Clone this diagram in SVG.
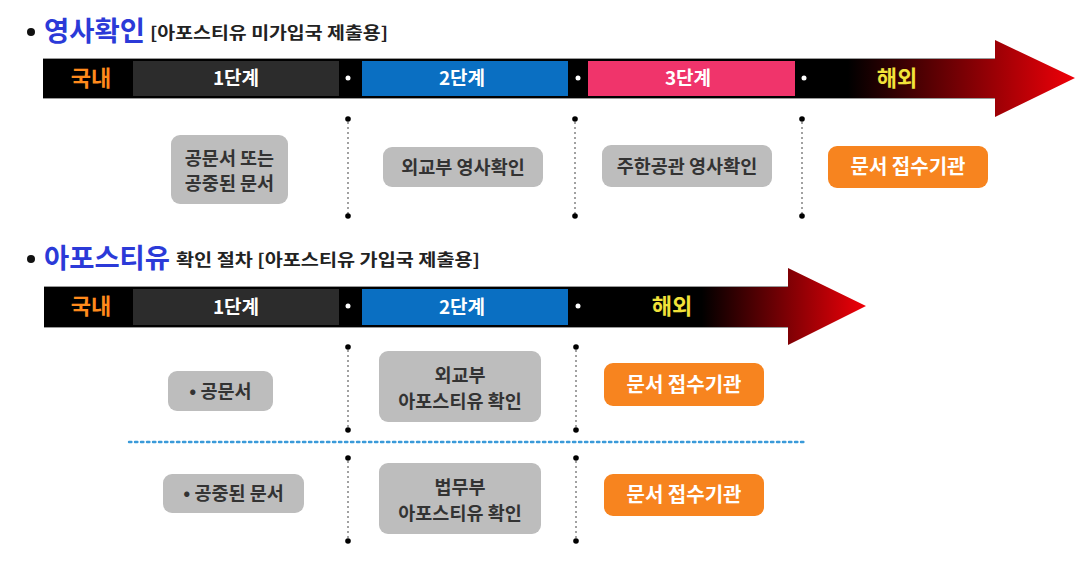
<svg xmlns="http://www.w3.org/2000/svg" width="1087" height="572" viewBox="0 0 1087 572">
<defs>
<linearGradient id="g1" gradientUnits="userSpaceOnUse" x1="43" y1="0" x2="1075" y2="0">
<stop offset="0" stop-color="#000"/><stop offset="0.78" stop-color="#000"/><stop offset="1" stop-color="#f00008"/>
</linearGradient>
<linearGradient id="g2" gradientUnits="userSpaceOnUse" x1="44" y1="0" x2="866" y2="0">
<stop offset="0" stop-color="#000"/><stop offset="0.8" stop-color="#000"/><stop offset="1" stop-color="#f00008"/>
</linearGradient>
<style>
text{font-family:"Noto Sans CJK KR","Noto Sans",sans-serif;font-weight:bold}
.title{fill:#2b3ad8;font-size:27.5px}
.sub{fill:#222;font-size:16.5px}
.bul{fill:#111}
.dom{fill:#ff8a1c;font-size:22px;text-anchor:middle}
.ovs{fill:#f2e23a;font-size:22px;text-anchor:middle}
.stg{fill:#fff;font-size:19px;text-anchor:middle}
.wd{fill:#fff}
.box{fill:#bdbdbd}
.obox{fill:#f7841f}
.bt{fill:#333;font-size:18.5px;text-anchor:middle}
.ot{fill:#fff;font-size:20px;text-anchor:middle}
.vl{stroke:#8a8a8a;stroke-width:1.6;stroke-dasharray:2 3}
.ed{fill:#000}
.hl{stroke:#3a9ad9;stroke-width:2.4;stroke-dasharray:2.4 3.6;stroke-linecap:round}
</style>
</defs>

<g id="heading1">
<circle class="bul" cx="31" cy="32" r="4"/>
<text class="title" x="44" y="41" textLength="101" lengthAdjust="spacingAndGlyphs">영사확인</text>
<text class="sub" x="150" y="39" textLength="238" lengthAdjust="spacingAndGlyphs">[아포스티유 미가입국 제출용]</text>
</g>

<g id="timeline1">
<path d="M43,58 H995 V40 L1075,78 L995,117 V99 H43 Z" fill="url(#g1)"/>
<line x1="43" y1="58.5" x2="995" y2="58.5" stroke="#9a9a9a" stroke-width="1"/>
<line x1="43" y1="98.5" x2="995" y2="98.5" stroke="#9a9a9a" stroke-width="1"/>
<text class="dom" x="91" y="86">국내</text>
<rect x="133" y="61" width="206" height="35" fill="#2c2c2c"/>
<text class="stg" x="236" y="85">1단계</text>
<circle class="wd" cx="348" cy="78" r="2.5"/>
<rect x="362" y="61" width="206" height="35" fill="#0a6fc2"/>
<text class="stg" x="462" y="85">2단계</text>
<circle class="wd" cx="578" cy="78" r="2.5"/>
<rect x="588" y="61" width="207" height="35" fill="#f0346b"/>
<text class="stg" x="688" y="85">3단계</text>
<circle class="wd" cx="804" cy="78" r="2.5"/>
<text class="ovs" x="897" y="86">해외</text>
</g>

<g id="heading2">
<circle class="bul" cx="31" cy="259" r="4"/>
<text class="title" x="44" y="268" textLength="126" lengthAdjust="spacingAndGlyphs">아포스티유</text>
<text class="sub" x="176" y="266" textLength="304" lengthAdjust="spacingAndGlyphs">확인 절차 [아포스티유 가입국 제출용]</text>
</g>

<g id="timeline2">
<path d="M44,286 H788 V268 L866,306 L788,345 V328 H44 Z" fill="url(#g2)"/>
<line x1="44" y1="286.5" x2="788" y2="286.5" stroke="#9a9a9a" stroke-width="1"/>
<line x1="44" y1="327.5" x2="788" y2="327.5" stroke="#9a9a9a" stroke-width="1"/>
<text class="dom" x="91" y="314">국내</text>
<rect x="133" y="289" width="206" height="36" fill="#2c2c2c"/>
<text class="stg" x="236" y="314">1단계</text>
<circle class="wd" cx="348" cy="306" r="2.5"/>
<rect x="362" y="289" width="206" height="36" fill="#0a6fc2"/>
<text class="stg" x="462" y="314">2단계</text>
<circle class="wd" cx="578" cy="306" r="2.5"/>
<text class="ovs" x="672" y="314">해외</text>
</g>

<g id="connectors">
<line class="vl" x1="348" y1="122" x2="348" y2="214"/>
<circle class="ed" cx="348" cy="119" r="2.8"/><circle class="ed" cx="348" cy="216" r="2.8"/>
<line class="vl" x1="575" y1="122" x2="575" y2="214"/>
<circle class="ed" cx="575" cy="119" r="2.8"/><circle class="ed" cx="575" cy="216" r="2.8"/>
<line class="vl" x1="802" y1="122" x2="802" y2="214"/>
<circle class="ed" cx="802" cy="119" r="2.8"/><circle class="ed" cx="802" cy="216" r="2.8"/>

<line class="vl" x1="348" y1="350" x2="348" y2="428"/>
<circle class="ed" cx="348" cy="347" r="2.8"/><circle class="ed" cx="348" cy="430" r="2.8"/>
<line class="vl" x1="576" y1="350" x2="576" y2="428"/>
<circle class="ed" cx="576" cy="347" r="2.8"/><circle class="ed" cx="576" cy="430" r="2.8"/>

<line class="hl" x1="129" y1="442" x2="807" y2="442"/>

<line class="vl" x1="348" y1="461" x2="348" y2="539"/>
<circle class="ed" cx="348" cy="458" r="2.8"/><circle class="ed" cx="348" cy="541" r="2.8"/>
<line class="vl" x1="576" y1="461" x2="576" y2="539"/>
<circle class="ed" cx="576" cy="458" r="2.8"/><circle class="ed" cx="576" cy="541" r="2.8"/>
</g>

<g id="n1-doc">
<rect class="box" x="171" y="135" width="117" height="69" rx="9"/>
<text class="bt" x="229.5" y="165">공문서 또는</text>
<text class="bt" x="229.5" y="190">공중된 문서</text>
</g>
<g id="n1-mofa">
<rect class="box" x="383" y="147" width="160" height="40" rx="9"/>
<text class="bt" x="463" y="174">외교부 영사확인</text>
</g>
<g id="n1-embassy">
<rect class="box" x="602" y="145" width="170" height="42" rx="9"/>
<text class="bt" x="687" y="173">주한공관 영사확인</text>
</g>
<g id="n1-receiver">
<rect class="obox" x="828" y="146" width="160" height="42" rx="9"/>
<text class="ot" x="908" y="174">문서 접수기관</text>
</g>

<g id="n2-doc">
<rect class="box" x="168" y="371" width="105" height="40" rx="9"/>
<text class="bt" x="220.5" y="398">• 공문서</text>
</g>
<g id="n2-mofa">
<rect class="box" x="379" y="351" width="162" height="71" rx="9"/>
<text class="bt" x="460" y="382">외교부</text>
<text class="bt" x="460" y="408">아포스티유 확인</text>
</g>
<g id="n2-receiver">
<rect class="obox" x="604" y="363" width="160" height="43" rx="9"/>
<text class="ot" x="684" y="392">문서 접수기관</text>
</g>

<g id="n3-doc">
<rect class="box" x="163" y="474" width="141" height="39" rx="9"/>
<text class="bt" x="233.5" y="500">• 공중된 문서</text>
</g>
<g id="n3-moj">
<rect class="box" x="379" y="463" width="162" height="71" rx="9"/>
<text class="bt" x="460" y="494">법무부</text>
<text class="bt" x="460" y="520">아포스티유 확인</text>
</g>
<g id="n3-receiver">
<rect class="obox" x="604" y="474" width="160" height="42" rx="9"/>
<text class="ot" x="684" y="502">문서 접수기관</text>
</g>
</svg>
